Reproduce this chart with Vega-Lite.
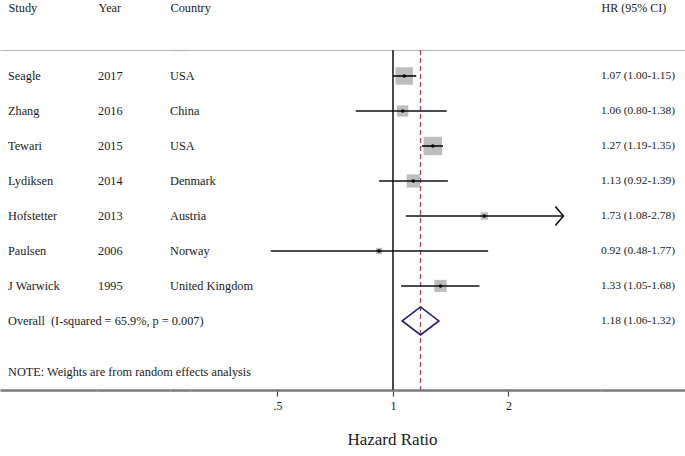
{
  "$schema": "https://vega.github.io/schema/vega-lite/v6.json",
  "background": "white",
  "padding": {"top": 1, "left": 0, "right": 0, "bottom": 0},
  "spacing": 0,
  "bounds": "flush",
  "config": {
    "view": {"stroke": null},
    "text": {"font": "Liberation Serif", "fontSize": 12.3, "color": "#1a1a1a"},
    "axis": {"labelFont": "Liberation Serif", "titleFont": "Liberation Serif", "grid": false}
  },
  "data": {
    "values": [
      {"study": "Seagle", "name": "Seagle", "year": "2017", "country": "USA", "hr": 1.07, "lo": 1.00, "hi": 1.15, "weight": 25.8, "ci_text": "1.07 (1.00-1.15)", "kind": "study"},
      {"study": "Zhang", "name": "Zhang", "year": "2016", "country": "China", "hr": 1.06, "lo": 0.80, "hi": 1.38, "weight": 10.8, "ci_text": "1.06 (0.80-1.38)", "kind": "study"},
      {"study": "Tewari", "name": "Tewari", "year": "2015", "country": "USA", "hr": 1.27, "lo": 1.19, "hi": 1.35, "weight": 28.9, "ci_text": "1.27 (1.19-1.35)", "kind": "study"},
      {"study": "Lydiksen", "name": "Lydiksen", "year": "2014", "country": "Denmark", "hr": 1.13, "lo": 0.92, "hi": 1.39, "weight": 15.1, "ci_text": "1.13 (0.92-1.39)", "kind": "study"},
      {"study": "Hofstetter", "name": "Hofstetter", "year": "2013", "country": "Austria", "hr": 1.73, "lo": 1.08, "hi": 2.78, "weight": 4.6, "ci_text": "1.73 (1.08-2.78)", "kind": "study"},
      {"study": "Paulsen", "name": "Paulsen", "year": "2006", "country": "Norway", "hr": 0.92, "lo": 0.48, "hi": 1.77, "weight": 3.4, "ci_text": "0.92 (0.48-1.77)", "kind": "study"},
      {"study": "J Warwick", "name": "J Warwick", "year": "1995", "country": "United Kingdom", "hr": 1.33, "lo": 1.05, "hi": 1.68, "weight": 12.8, "ci_text": "1.33 (1.05-1.68)", "kind": "study"},
      {"study": "Overall", "name": "Overall\u00a0 (I-squared = 65.9%, p = 0.007)", "year": "", "country": "", "hr": 1.18, "lo": 1.06, "hi": 1.32, "weight": null, "ci_text": "1.18 (1.06-1.32)", "kind": "overall"}
    ]
  },
  "hconcat": [
    {
      "width": 97, "height": 340,
      "layer": [
        {
          "mark": {"type": "text", "align": "left", "baseline": "middle", "dx": 8},
          "encoding": {
            "x": {"datum": "Study", "type": "nominal", "scale": {"type": "point", "padding": 0, "align": 0},
                  "axis": {"orient": "top", "title": null, "ticks": false, "tickSize": 0, "labelAlign": "left", "labelAngle": 0, "labelOffset": 8, "labelPadding": 36, "labelFontSize": 12.3, "labelColor": "#1a1a1a", "domainColor": "#b4b4b4", "domainWidth": 1.2}},
            "y": {"field": "study", "type": "nominal", "scale": {"type": "point", "domain": ["Seagle", "Zhang", "Tewari", "Lydiksen", "Hofstetter", "Paulsen", "J Warwick", "Overall", "_"], "padding": 0.857, "align": 0.433}, "axis": null},
            "text": {"field": "name"}
          }
        },
        {
          "data": {"values": [{"note": "NOTE: Weights are from random effects analysis"}]},
          "mark": {"type": "text", "align": "left", "baseline": "middle", "dx": 8, "dy": -18},
          "encoding": {
            "x": {"datum": "note", "type": "nominal", "scale": {"type": "point", "padding": 0, "align": 0},
                  "axis": {"orient": "bottom", "title": null, "labels": false, "ticks": false, "domainColor": "#7a7a7a", "domainWidth": 2.5}},
            "y": {"value": "height"},
            "text": {"field": "note"}
          }
        }
      ],
      "resolve": {"scale": {"x": "independent"}, "axis": {"x": "independent"}}
    },
    {
      "width": 73, "height": 340,
      "layer": [
        {
          "mark": {"type": "text", "align": "left", "baseline": "middle", "dx": 1},
          "encoding": {
            "x": {"datum": "Year", "type": "nominal", "scale": {"type": "point", "padding": 0, "align": 0},
                  "axis": {"orient": "top", "title": null, "ticks": false, "tickSize": 0, "labelAlign": "left", "labelAngle": 0, "labelOffset": 1, "labelPadding": 36, "labelFontSize": 12.3, "labelColor": "#1a1a1a", "domainColor": "#b4b4b4", "domainWidth": 1.2}},
            "y": {"field": "study", "type": "nominal", "scale": {"type": "point", "domain": ["Seagle", "Zhang", "Tewari", "Lydiksen", "Hofstetter", "Paulsen", "J Warwick", "Overall", "_"], "padding": 0.857, "align": 0.433}, "axis": null},
            "text": {"field": "year"}
          }
        },
        {
          "data": {"values": [{}]},
          "mark": {"type": "text", "text": ""},
          "encoding": {
            "x": {"datum": "y", "type": "nominal", "scale": {"type": "point", "padding": 0, "align": 0},
                  "axis": {"orient": "bottom", "title": null, "labels": false, "ticks": false, "domainColor": "#7a7a7a", "domainWidth": 2.5}}
          }
        }
      ],
      "resolve": {"scale": {"x": "independent"}, "axis": {"x": "independent"}}
    },
    {
      "width": 20, "height": 340,
      "layer": [
        {
          "mark": {"type": "text", "align": "left", "baseline": "middle", "dx": 0},
          "encoding": {
            "x": {"datum": "Country", "type": "nominal", "scale": {"type": "point", "padding": 0, "align": 0},
                  "axis": {"orient": "top", "title": null, "ticks": false, "tickSize": 0, "labelAlign": "left", "labelAngle": 0, "labelPadding": 36, "labelFontSize": 12.3, "labelColor": "#1a1a1a", "domainColor": "#b4b4b4", "domainWidth": 1.2}},
            "y": {"field": "study", "type": "nominal", "scale": {"type": "point", "domain": ["Seagle", "Zhang", "Tewari", "Lydiksen", "Hofstetter", "Paulsen", "J Warwick", "Overall", "_"], "padding": 0.857, "align": 0.433}, "axis": null},
            "text": {"field": "country"}
          }
        },
        {
          "data": {"values": [{}]},
          "mark": {"type": "text", "text": ""},
          "encoding": {
            "x": {"datum": "c", "type": "nominal", "scale": {"type": "point", "padding": 0, "align": 0},
                  "axis": {"orient": "bottom", "title": null, "labels": false, "ticks": false, "domainColor": "#7a7a7a", "domainWidth": 2.5}}
          }
        }
      ],
      "resolve": {"scale": {"x": "independent"}, "axis": {"x": "independent"}}
    },
    {
      "width": 411, "height": 340,
      "layer": [
        {
          "layer": [
            {
              "mark": {"type": "rule", "color": "#4a4a4a", "strokeWidth": 1.5},
              "encoding": {
                "x": {"datum": 1, "type": "quantitative",
                      "scale": {"type": "log", "domain": [0.2959, 3.484], "nice": false, "zero": false},
                      "axis": {"orient": "bottom", "values": [0.5, 1, 2], "labelExpr": "datum.value < 0.75 ? '.5' : datum.value < 1.5 ? '1' : '2'", "title": "Hazard Ratio", "titleX": 202, "titleFontSize": 17, "titleFontWeight": "normal", "titleColor": "#1a1a1a", "titlePadding": 20, "labelFontSize": 12, "labelColor": "#1a1a1a", "labelPadding": 4, "labelFlush": false, "tickColor": "#444", "tickSize": 6, "tickWidth": 1.2, "domainColor": "#7a7a7a", "domainWidth": 2.5}}
              }
            },
            {
              "transform": [{"filter": "datum.kind == 'overall'"}],
              "mark": {"type": "rule", "color": "#a8464f", "strokeWidth": 1.3, "strokeDash": [5, 3]},
              "encoding": {"x": {"field": "hr", "type": "quantitative"}}
            },
            {
              "transform": [{"filter": "datum.kind == 'study'"}],
              "mark": {"type": "point", "shape": "square", "filled": true, "color": "#bdbdbd", "opacity": 1},
              "encoding": {
                "x": {"field": "hr", "type": "quantitative"},
                "y": {"field": "study", "type": "nominal", "scale": {"type": "point", "domain": ["Seagle", "Zhang", "Tewari", "Lydiksen", "Hofstetter", "Paulsen", "J Warwick", "Overall", "_"], "padding": 0.857, "align": 0.433}, "axis": null},
                "size": {"field": "weight", "type": "quantitative", "scale": {"type": "linear", "domain": [0, 30], "range": [0, 350]}, "legend": null}
              }
            },
            {
              "transform": [{"filter": "datum.kind == 'study'"}],
              "mark": {"type": "rule", "color": "#111", "strokeWidth": 1.7},
              "encoding": {
                "x": {"field": "lo", "type": "quantitative"},
                "x2": {"field": "hi"},
                "y": {"field": "study", "type": "nominal"}
              }
            },
            {
              "transform": [{"filter": "datum.kind == 'study'"}],
              "mark": {"type": "point", "shape": "circle", "filled": true, "color": "#000", "size": 12, "opacity": 1},
              "encoding": {
                "x": {"field": "hr", "type": "quantitative"},
                "y": {"field": "study", "type": "nominal"}
              }
            },
            {
              "transform": [{"filter": "datum.kind == 'study' && datum.hi > 2.5"}],
              "mark": {"type": "point", "shape": "M-0.84,-1L0,0L-0.84,1", "filled": false, "stroke": "#111", "strokeWidth": 1.6, "size": 361, "opacity": 1},
              "encoding": {
                "x": {"field": "hi", "type": "quantitative"},
                "y": {"field": "study", "type": "nominal"}
              }
            },
            {
              "transform": [{"filter": "datum.kind == 'overall'"}],
              "mark": {"type": "point", "shape": "M-1,0L0,-0.765L1,0L0,0.765Z", "filled": false, "stroke": "#1e1e6e", "strokeWidth": 1.6, "size": 1340, "opacity": 1},
              "encoding": {
                "x": {"field": "hr", "type": "quantitative"},
                "y": {"field": "study", "type": "nominal"}
              }
            }
          ]
        },
        {
          "data": {"values": [{}]},
          "mark": {"type": "text", "text": ""},
          "encoding": {
            "x": {"datum": "f", "type": "nominal", "scale": {"type": "point", "padding": 0, "align": 0},
                  "axis": {"orient": "top", "title": null, "labels": false, "ticks": false, "domainColor": "#b4b4b4", "domainWidth": 1.2}}
          }
        }
      ],
      "resolve": {"scale": {"x": "independent"}, "axis": {"x": "independent"}}
    },
    {
      "width": 84, "height": 340,
      "layer": [
        {
          "mark": {"type": "text", "align": "left", "baseline": "middle", "dx": 0, "fontSize": 11.4},
          "encoding": {
            "x": {"datum": "HR (95% CI)", "type": "nominal", "scale": {"type": "point", "padding": 0, "align": 0},
                  "axis": {"orient": "top", "title": null, "ticks": false, "tickSize": 0, "labelAlign": "left", "labelAngle": 0, "labelPadding": 36, "labelFontSize": 12, "labelColor": "#1a1a1a", "domainColor": "#b4b4b4", "domainWidth": 1.2}},
            "y": {"field": "study", "type": "nominal", "scale": {"type": "point", "domain": ["Seagle", "Zhang", "Tewari", "Lydiksen", "Hofstetter", "Paulsen", "J Warwick", "Overall", "_"], "padding": 0.857, "align": 0.433}, "axis": null},
            "text": {"field": "ci_text"}
          }
        },
        {
          "data": {"values": [{}]},
          "mark": {"type": "text", "text": ""},
          "encoding": {
            "x": {"datum": "h", "type": "nominal", "scale": {"type": "point", "padding": 0, "align": 0},
                  "axis": {"orient": "bottom", "title": null, "labels": false, "ticks": false, "domainColor": "#7a7a7a", "domainWidth": 2.5}}
          }
        }
      ],
      "resolve": {"scale": {"x": "independent"}, "axis": {"x": "independent"}}
    }
  ]
}
